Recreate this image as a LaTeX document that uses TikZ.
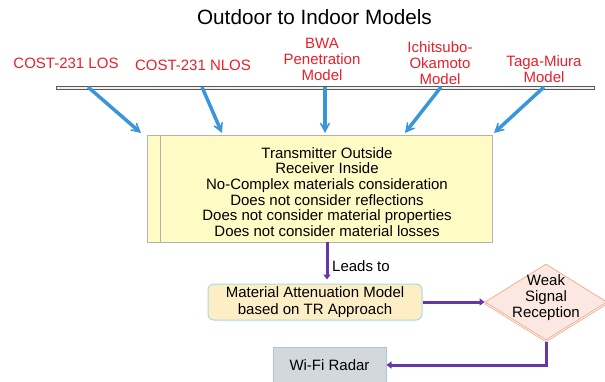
\documentclass[tikz,border=0pt]{standalone}
\usepackage{fontspec}
\setmainfont{Liberation Sans}
\usetikzlibrary{shapes.geometric,arrows.meta,shadows}
\definecolor{redlbl}{HTML}{E8202A}
\definecolor{bluearr}{HTML}{3A96DA}
\definecolor{purp}{RGB}{100,55,170}
\definecolor{ybox}{HTML}{FFFBC4}
\definecolor{matfill}{HTML}{FDEEC6}
\definecolor{matdraw}{HTML}{A6DCD6}
\definecolor{wififill}{HTML}{D3D8DD}
\definecolor{wifidraw}{HTML}{A9C6D8}
\definecolor{diafill}{HTML}{FCE8E2}
\definecolor{diadraw}{HTML}{F4A888}
\tikzset{
  redtext/.style={text=redlbl, align=center, font=\fontsize{15}{16}\selectfont, inner sep=0pt},
  bluearrow/.style={draw=bluearr, line width=3.5pt, -{Stealth[length=16pt,width=17pt,inset=11pt]}},
  purpline/.style={draw=purp, line width=3pt},
  purptip/.style={-{Triangle[length=5pt,width=7pt]}},
  bodytext/.style={align=center, font=\fontsize{15}{15.7}\selectfont, inner sep=0pt},
}
\begin{document}
\begin{tikzpicture}[x=1pt,y=-1pt]
\useasboundingbox (0,0) rectangle (605,381);
\clip (0,0) rectangle (605,381);

% title
\node[font=\fontsize{20.7}{22}\selectfont, inner sep=0pt] (title) at (314.5,17) {Outdoor to Indoor Models};

% red labels
\node[redtext] (los) at (66,63) {COST-231 LOS};
\node[redtext] (nlos) at (193,65) {COST-231 NLOS};
\node[redtext] (bwa) at (322,59) {BWA\\Penetration\\Model};
\node[redtext] (ichi) at (440,63) {Ichitsubo-\\Okamoto\\Model};
\node[redtext] (taga) at (544,69) {Taga-Miura\\Model};

% bar
\node[draw=gray!70!black, fill=gray!12, line width=0.6pt, minimum width=538pt, minimum height=3pt, inner sep=0pt] (bar) at (325,87.5) {};

% yellow box
\node[draw=gray!60, fill=ybox, line width=0.8pt, minimum width=345pt, minimum height=107pt, inner sep=0pt,
      drop shadow={shadow xshift=1.2pt, shadow yshift=-1.2pt, opacity=0.35}] (cond) at (319.5,188.5) {};
\draw[gray!60, line width=0.8pt] ([xshift=14pt]cond.north west) -- ([xshift=14pt]cond.south west);
\node[bodytext] (condtxt) at (327,192) {Transmitter Outside\\Receiver Inside\\No-Complex materials consideration\\Does not consider reflections\\Does not consider material properties\\Does not consider material losses};

% blue arrow coordinates
\coordinate (s1) at (88,87);   \coordinate (e1) at (141,133);
\coordinate (s2) at (202,87);  \coordinate (e2) at (222,133);
\coordinate (s3) at (325,87);  \coordinate (e3) at (325,133);
\coordinate (s4) at (441,87);  \coordinate (e4) at (405,133);
\coordinate (s5) at (544,87);  \coordinate (e5) at (494,133);
\draw[bluearrow] (s1) -- (e1);
\draw[bluearrow] (s2) -- (e2);
\draw[bluearrow] (s3) -- (e3);
\draw[bluearrow] (s4) -- (e4);
\draw[bluearrow] (s5) -- (e5);

% material box
\node[draw=matdraw, fill=matfill, line width=1pt, rounded corners=6pt, minimum width=214pt, minimum height=36pt, bodytext, font=\fontsize{15}{17}\selectfont] (mat) at (315,302) {Material Attenuation Model\\based on TR Approach};

% diamond
\node[draw=diadraw, line width=0.7pt, diamond, minimum width=122pt, minimum height=76pt, inner sep=0pt] (diashadow) at (546,304) {};
\node[draw=diadraw, fill=diafill, line width=0.7pt, diamond, minimum width=122pt, minimum height=76pt, inner sep=0pt] (dia) at (546,302) {};
\node[bodytext] (diatxt) at (546,297.5) {Weak\\Signal\\Reception};

% wifi box
\node[draw=wifidraw, fill=wififill, line width=1pt, minimum width=113pt, minimum height=36pt, bodytext] (wifi) at (329.5,365) {Wi-Fi Radar};

% purple connectors
\draw[purpline, purptip, shorten >=4pt] (condtxt |- cond.south) -- (condtxt |- mat.north);
\node[bodytext, anchor=west] (leads) at (332,266) {Leads to};
\draw[purpline, purptip] (mat.east) -- (dia.west);
\draw[purpline, purptip] (diashadow.south) |- (wifi.east);
\end{tikzpicture}
\end{document}
